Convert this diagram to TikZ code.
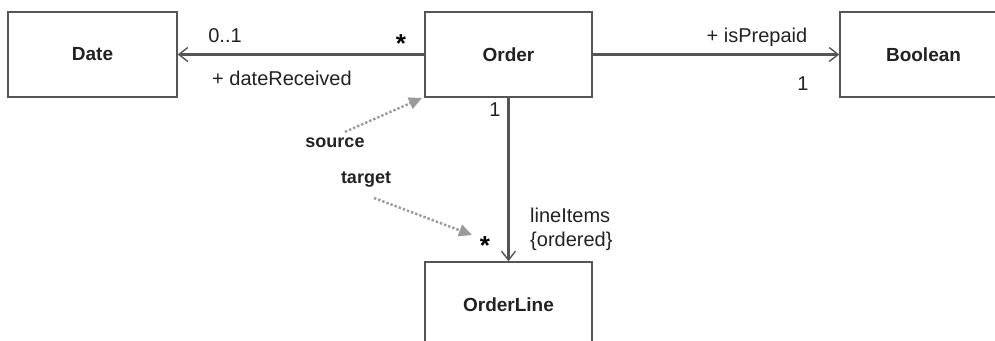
\documentclass[tikz,border=0pt]{standalone}
\usepackage{fontspec}
\setmainfont{Liberation Sans}
\usetikzlibrary{arrows.meta, positioning, calc, shapes}

\definecolor{linegray}{HTML}{555555}
\definecolor{dotgray}{HTML}{9A9A9A}
\definecolor{textgray}{HTML}{222222}

\tikzset{
  classbox/.style={draw=linegray, line width=1.4pt, minimum width=167pt, minimum height=85pt,
    inner sep=0pt, font=\fontsize{19}{22}\selectfont\bfseries, text=textgray},
  assoc/.style={draw=linegray, line width=2.2pt, -{Straight Barb[length=9pt,width=14pt,line width=1.4pt]}},
  rolelabel/.style={font=\fontsize{20}{24}\selectfont, text=textgray, inner sep=0pt},
  mult/.style={font=\fontsize{26}{28}\selectfont\bfseries, text=black, inner sep=0pt},
  hint/.style={font=\fontsize{18}{20}\selectfont\bfseries, text=textgray, inner sep=0pt},
  pointer/.style={draw=dotgray, line width=2.4pt, dotted, -{Triangle[length=13pt,width=12pt,fill=dotgray]}}
}

\begin{document}
\begin{tikzpicture}[x=1pt, y=-1pt]
        \useasboundingbox (0,0) rectangle (995,340);
        \clip (0,0) rectangle (995,340);
        % Classes
        \node[classbox, minimum width=169pt] (date) at (92.5,54.5) {Date};
        \node[classbox] (order) at (508.5,54.5) {Order};
        \node[classbox] (boolean) at (923.5,54.5) {Boolean};
        \node[classbox] (orderline) at (508.5,304.5) {OrderLine};
        % Associations
        \draw[assoc] (order.west) -- (date.east);
        \draw[assoc] (order.east) -- (boolean.west);
        \draw[assoc] (order.south) -- (orderline.north);
        % Ends
        \node[rolelabel] (dateMult) at (225,36) {0..1};
        \node[mult] (orderMult) at (401,44) {*};
        \node[rolelabel] (dateRole) at (282,78) {+ dateReceived};
        \node[rolelabel] (prepaidRole) at (757,37) {+ isPrepaid};
        \node[rolelabel] (boolMult) at (803,84) {1};
        \node[rolelabel] (orderOne) at (495,110) {1};
        \node[mult] (lineMult) at (485,246) {*};
        \node[rolelabel, align=left, anchor=west] (lineRole) at (530,229) {lineItems\\\{ordered\}};
        % Source and target hints
        \node[hint] (source) at (335,143) {source};
        \node[hint] (target) at (366,180) {target};
        \coordinate (sourceEnd) at (422,98);
        \coordinate (targetEnd) at (472,235);
        \draw[pointer] ($(source.north)+(10,-6)$) -- (sourceEnd);
        \draw[pointer] ($(target.south)+(8,10)$) -- (targetEnd);
\end{tikzpicture}
\end{document}
